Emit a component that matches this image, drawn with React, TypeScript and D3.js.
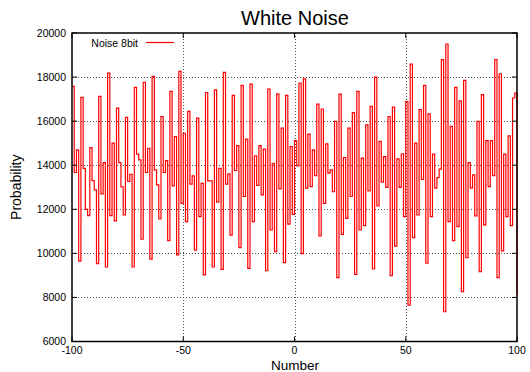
import React from 'react';
import * as d3 from 'd3';

// chart data
const numbers = d3.range(-100, 101);
const noise8bit = [
  17580, 13670, 14700, 9650, 17080, 13860, 12000, 11710, 14800, 13300, 12880, 9530, 17120,
  12700, 14120, 9380, 18180, 11710, 15000, 11470, 16590, 14120, 13020, 11740, 16170, 13260,
  13590, 9380, 17530, 14500, 14240, 10640, 17760, 13670, 14770, 9740, 18030, 13790, 13110,
  11560, 16210, 13670, 14210, 10580, 17350, 13060, 15300, 9930, 18260, 12270, 15450,
  11440, 16440, 13140, 13520, 10150, 16140, 11670, 13180, 9020, 17300, 13290, 13290, 9380,
  17420, 12320, 13860, 9270, 18210, 13140, 13610, 10830, 17170, 13760, 14890, 10260,
  17620, 12580, 15180, 9320, 17680, 11440, 14430, 13080, 14890, 12650, 14730, 9210, 17450,
  11060, 14090, 10080, 17240, 12930, 15680, 9580, 17170, 11330, 14850, 11770, 15120,
  13970, 17730, 9990, 17920, 12960, 15410, 13030, 14700, 13530, 16770, 10790, 16550, 12270,
  14970, 13640, 13790, 12800, 15990, 8900, 17230, 10860, 14350, 11590, 15680, 12580,
  16390, 9050, 17350, 11060, 14320, 11260, 15830, 12830, 16670, 9290, 18000, 12150, 15080,
  13230, 14390, 12990, 16210, 8990, 16640, 10330, 14290, 12990, 14520, 11670, 16890,
  7650, 18590, 10710, 15000, 11740, 16520, 13360, 17620, 9550, 16330, 11670, 14500, 12960,
  13440, 13820, 18790, 7350, 19500, 11440, 15760, 10580, 17530, 11210, 16920, 8260,
  17850, 9800, 14120, 12960, 13560, 11700, 15990, 9170, 17200, 11290, 15120, 13030, 15120,
  13530, 18790, 8900, 18150, 10110, 14500, 11670, 15330, 11260, 17050, 17270, 8110,
];
const xTicks = [-100, -50, 0, 50, 100];
const yTicks = [6000, 8000, 10000, 12000, 14000, 16000, 18000, 20000];

const W = 530;
const H = 372;
const left = 72;
const right = 517;
const top = 33;
const bottom = 341.5;
const font = 'Liberation Sans, Arial, Helvetica, sans-serif';

const App = () => {
  const x = d3.scaleLinear().domain([-100, 100]).range([left, right]);
  const y = d3.scaleLinear().domain([6000, 20000]).range([bottom, top]);

  const line = d3.line<number>()
    .x((_, i) => x(numbers[i]))
    .y(d => y(d))
    .curve(d3.curveStepAfter);

  return (
    <svg width={W} height={H} style={{ position: 'absolute', left: 0, top: 0, background: '#fff' }}>
      <rect x={0} y={0} width={W} height={H} fill="#fff" />

      {/* grid */}
      {yTicks.filter(t => t > 6000 && t < 20000).map(t => (
        <line key={'gy' + t} x1={left} x2={right} y1={Math.round(y(t)) + 0.5} y2={Math.round(y(t)) + 0.5}
          stroke="#222" strokeWidth={1} strokeDasharray="1,2" opacity={0.8} />
      ))}
      {xTicks.filter(t => t > -100 && t < 100).map(t => (
        <line key={'gx' + t} y1={top} y2={bottom} x1={Math.round(x(t)) + 0.5} x2={Math.round(x(t)) + 0.5}
          stroke="#222" strokeWidth={1} strokeDasharray="1,2" opacity={0.8} />
      ))}

      {/* data */}
      <path d={line(noise8bit) || ''} fill="none" stroke="#ff0000" strokeWidth={1.2} strokeLinejoin="miter" />

      {/* ticks (mirrored) */}
      {yTicks.map(t => (
        <g key={'ty' + t}>
          <line x1={left} x2={left + 5} y1={y(t)} y2={y(t)} stroke="#000" />
          <line x1={right - 5} x2={right} y1={y(t)} y2={y(t)} stroke="#000" />
          <text x={left - 6} y={y(t)} dy="0.35em" textAnchor="end" fontFamily={font} fontSize={10.5} fill="#000">{t}</text>
        </g>
      ))}
      {xTicks.map(t => (
        <g key={'tx' + t}>
          <line x1={x(t)} x2={x(t)} y1={bottom} y2={bottom - 5} stroke="#000" />
          <line x1={x(t)} x2={x(t)} y1={top} y2={top + 5} stroke="#000" />
          <text x={x(t)} y={bottom + 12.5} textAnchor="middle" fontFamily={font} fontSize={10.5} fill="#000">{t}</text>
        </g>
      ))}

      {/* frame */}
      <rect x={left} y={top} width={right - left} height={bottom - top} fill="none" stroke="#000" strokeWidth={1.5} />

      {/* legend */}
      <text x={138} y={46.5} textAnchor="end" fontFamily={font} fontSize={10.5} fill="#000">Noise 8bit</text>
      <line x1={146} x2={174} y1={42.5} y2={42.5} stroke="#ff0000" strokeWidth={1.2} />

      {/* titles */}
      <text x={295} y={25} textAnchor="middle" fontFamily={font} fontSize={20} fill="#000">White Noise</text>
      <text x={295} y={369.5} textAnchor="middle" fontFamily={font} fontSize={13.5} fill="#000">Number</text>
      <text transform={`translate(21,${(top + bottom) / 2}) rotate(-90)`} textAnchor="middle"
        fontFamily={font} fontSize={14} fill="#000">Probability</text>
    </svg>
  );
};

export default App;
